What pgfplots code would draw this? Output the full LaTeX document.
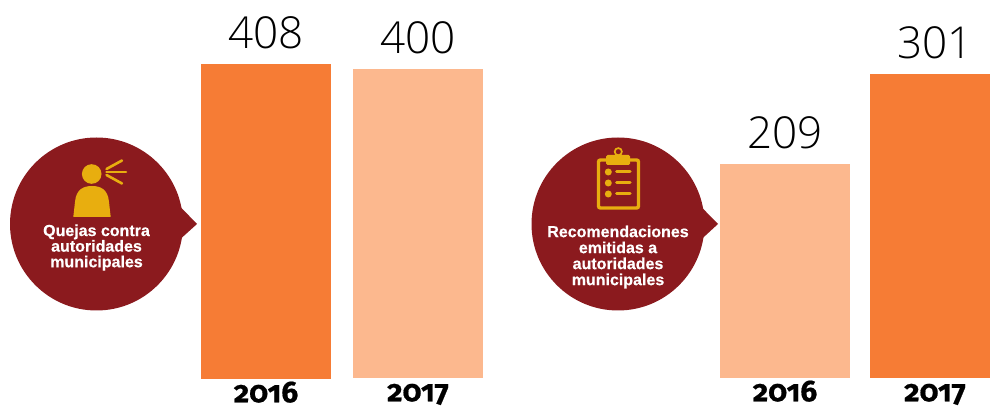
\documentclass[border=0pt]{standalone}
\usepackage{fontspec}
\usepackage{pgfplots}
\pgfplotsset{compat=1.18}
\setmainfont{Liberation Sans}
\newfontfamily\yearfont[Numbers=OldStyle,FakeBold=0.6]{Fira Sans Bold}
\newfontfamily\numfont{Open Sans Light}
\newfontfamily\bubblefont[FakeBold=0.5]{Liberation Sans Bold}
\definecolor{orangeA}{HTML}{F67C35}
\definecolor{peachA}{HTML}{FCB88E}
\definecolor{wine}{HTML}{8B1A1E}
\definecolor{goldA}{HTML}{E8AE0F}
\pgfplotsset{
  onebar/.style={
    scale only axis, width=130pt, ybar, bar width=130pt,
    xmin=-0.5, xmax=0.5, ymin=0,
    xtick={0}, ytick=\empty,
    axis line style={draw=none}, major tick style={draw=none},
    xticklabel style={font=\yearfont\fontsize{30}{30}\selectfont, anchor=base, yshift=-19pt, inner sep=0pt},
    nodes near coords,
    point meta=y,
    nodes near coords style={font=\numfont\fontsize{44}{44}\selectfont, black, anchor=south, yshift=12pt,
      /pgf/number format/assume math mode=true, /pgf/number format/fixed},
  }
}
\begin{document}
\begin{tikzpicture}[x=1pt,y=1pt]
\path[use as bounding box] (0,0) rectangle (990,409);
\begin{axis}[onebar, at={(201pt,30pt)}, anchor=south west, height=315pt, ymax=408, xticklabels={2016}]
\addplot[fill=orangeA, draw=none] coordinates {(0,408)};
\end{axis}
\begin{axis}[onebar, at={(353pt,31pt)}, anchor=south west, height=309pt, ymax=400, xticklabels={2017}]
\addplot[fill=peachA, draw=none] coordinates {(0,400)};
\end{axis}
\begin{axis}[onebar, at={(720pt,31pt)}, anchor=south west, height=214pt, ymax=209, xticklabels={2016}]
\addplot[fill=peachA, draw=none] coordinates {(0,209)};
\end{axis}
\begin{axis}[onebar, at={(870pt,31pt)}, anchor=south west, width=120pt, xmax=0.4231, height=304pt, ymax=301, xticklabels={2017}]
\addplot[fill=orangeA, draw=none] coordinates {(0,301)};
\end{axis}
% left bubble
\fill[wine] (96.5,185) circle (86.5);
\fill[wine] (178,203) -- (181.5,201) -- (197,185) -- (181.5,171) -- (178,168) -- cycle;
\fill[goldA] (91.7,235) circle (9.8);
\fill[goldA] (73.3,192) -- (75,207) .. controls (76,220) and (84,223) .. (92,223) .. controls (100,223) and (108,220) .. (109,207) -- (110.7,192) -- cycle;
\draw[goldA, line width=2.6pt, line cap=round] (106.5,240) -- (122,248.5);
\draw[goldA, line width=2.6pt, line cap=round] (106.5,237) -- (126,237);
\draw[goldA, line width=2.6pt, line cap=round] (106.5,234) -- (122,225.5);
\node[white, font=\bubblefont\fontsize{16}{15.6}\selectfont, align=center, inner sep=0pt] at (96.5,161.5) {Quejas contra\\autoridades\\municipales};
% right bubble
\fill[wine] (618,185) circle (86.5);
\fill[wine] (700,203) -- (703.3,200) -- (718,185) -- (703.3,171.5) -- (700,168) -- cycle;
\draw[goldA, line width=3.4pt, rounded corners=2pt] (598.5,249) rectangle (638.5,201);
\fill[goldA, rounded corners=1.5pt] (606,244) rectangle (630,254);
\draw[goldA, line width=1.7pt] (618.3,257.3) circle (3.6);
\foreach \yy in {237,226,215} {
  \fill[goldA] (608.3,\yy) circle (3.5);
  \draw[goldA, line width=3pt, line cap=round] (616.5,\yy) -- (630,\yy);
}
\node[white, font=\bubblefont\fontsize{16}{16}\selectfont, align=center, inner sep=0pt] at (618,152) {Recomendaciones\\emitidas a\\autoridades\\municipales};
\end{tikzpicture}
\end{document}
